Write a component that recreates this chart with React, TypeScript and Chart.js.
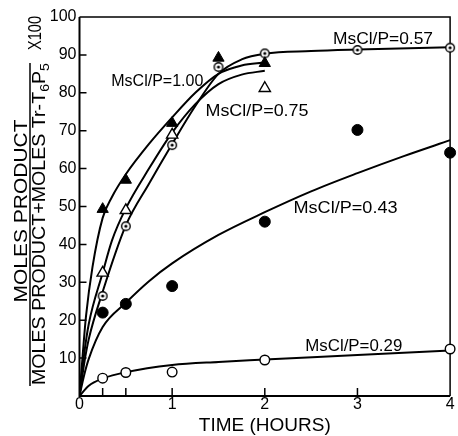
import React, { useEffect, useRef } from 'react';
import { Chart, registerables } from 'chart.js';

Chart.register(...registerables);

// ---- axis ticks ----
const xTickValues = [0, 0.25, 0.5, 1, 2, 3, 4];
const xTickLabels = ['0', '', '', '1', '2', '3', '4'];
const yTickValues = [0, 10, 20, 30, 40, 50, 60, 70, 80, 90, 100];
const yTickLabels = ['', '10', '20', '30', '40', '50', '60', '70', '80', '90', '100'];

// ---- measured points (time in hours, percent) ----
const t100 = [0.25, 0.5, 1, 1.5, 2];
const v100 = [49.3, 57, 72, 89.2, 87.8];
const t75 = [0.25, 0.5, 1, 2];
const v75 = [32.5, 49, 68.9, 81.2];
const t57 = [0.25, 0.5, 1, 1.5, 2, 3, 4];
const v57 = [26.4, 44.8, 66.2, 86.8, 90.4, 91.3, 91.9];
const t43 = [0.25, 0.5, 1, 2, 3, 4];
const v43 = [22, 24.3, 29, 46, 70.2, 64.2];
const t29 = [0.25, 0.5, 1, 2, 4];
const v29 = [4.7, 6.2, 6.3, 9.5, 12.4];

// ---- hand-drawn curves ----
const fitT100 = [0, 0.035, 0.07, 0.14, 0.25, 0.35, 0.5, 0.75, 1, 1.25, 1.5, 1.75, 2];
const fitV100 = [0, 11, 21, 34, 47, 52.5, 58.5, 66.5, 73.5, 80, 85, 87.2, 88];
const fitT75 = [0, 0.05, 0.1, 0.25, 0.35, 0.5, 0.75, 1, 1.25, 1.5, 1.75, 2];
const fitV75 = [0, 11, 19, 32.5, 41, 49.5, 60, 69.5, 77, 82.3, 84.8, 85.8];
const fitT57 = [0, 0.05, 0.1, 0.25, 0.5, 0.75, 1, 1.25, 1.5, 1.75, 2, 2.5, 3, 4];
const fitV57 = [0, 8.5, 15, 27.5, 45, 56, 66.5, 76.5, 85, 88.8, 90.3, 91, 91.4, 92];
const fitT43 = [0, 0.05, 0.1, 0.25, 0.5, 0.75, 1, 1.5, 2, 2.5, 3, 3.5, 4];
const fitV43 = [0, 5.5, 9.8, 18.2, 24.6, 30.3, 35, 42.5, 48.5, 54, 58.8, 63.3, 67.5];
const fitT29 = [0, 0.1, 0.25, 0.5, 1, 1.5, 2, 3, 4];
const fitV29 = [0, 2.7, 4.6, 6.3, 8.2, 9.0, 9.6, 10.8, 12.0];

// ---- series labels ----
const seriesLabels = ['MsCl/P=1.00', 'MsCl/P=0.75', 'MsCl/P=0.57', 'MsCl/P=0.43', 'MsCl/P=0.29'];
const labelX = [0.343, 1.36, 2.736, 2.31, 2.437];
const labelY = [83.4, 75.5, 94.4, 49.9, 13.3];
const labelW = [92, 103, 100, 104, 97];

const FONT = '"Liberation Sans", Arial, sans-serif';

const zip = (xs: number[], ys: number[]) => xs.map((x, i) => ({ x, y: ys[i] }));

type Seg = { t: string; size: number; sub?: number };

function drawSegs(
  ctx: CanvasRenderingContext2D,
  ox: number,
  oy: number,
  rot: boolean,
  segs: Seg[],
  target: number,
  align: 'left' | 'center'
) {
  ctx.save();
  ctx.translate(ox, oy);
  if (rot) ctx.rotate(-Math.PI / 2);
  let w = 0;
  const widths = segs.map((s) => {
    ctx.font = `${s.size}px ${FONT}`;
    const m = ctx.measureText(s.t).width;
    w += m;
    return m;
  });
  const k = target / w;
  ctx.scale(k, 1);
  let cx = align === 'center' ? -w / 2 : 0;
  const base = (0.716 * segs[0].size) / 2;
  ctx.textAlign = 'left';
  ctx.textBaseline = 'alphabetic';
  ctx.fillStyle = '#000';
  segs.forEach((s, i) => {
    ctx.font = `${s.size}px ${FONT}`;
    ctx.fillText(s.t, cx, base + (s.sub || 0));
    cx += widths[i];
  });
  ctx.restore();
}

function makeDotCircle() {
  const c = document.createElement('canvas');
  c.width = 12;
  c.height = 12;
  const g = c.getContext('2d')!;
  g.beginPath();
  g.arc(6, 6, 4.3, 0, Math.PI * 2);
  g.fillStyle = '#fff';
  g.fill();
  g.lineWidth = 1.4;
  g.strokeStyle = '#000';
  g.stroke();
  g.beginPath();
  g.arc(6, 6, 1.6, 0, Math.PI * 2);
  g.fillStyle = '#000';
  g.fill();
  return c;
}

const framePlugin = {
  id: 'frame',
  beforeDatasetsDraw(chart: any) {
    const { ctx, chartArea, scales } = chart;
    const { left, right, top, bottom } = chartArea;
    ctx.save();
    ctx.strokeStyle = '#000';
    ctx.lineWidth = 1.5;
    ctx.beginPath();
    ctx.moveTo(left, top);
    ctx.lineTo(right, top);
    ctx.lineTo(right, bottom);
    ctx.stroke();
    ctx.lineWidth = 2;
    ctx.beginPath();
    ctx.moveTo(left, top);
    ctx.lineTo(left, bottom);
    ctx.lineTo(right, bottom);
    ctx.stroke();
    ctx.lineWidth = 1.5;
    ctx.beginPath();
    xTickValues.forEach((v) => {
      if (v <= 0 || v >= 4) return;
      const px = scales.x.getPixelForValue(v);
      ctx.moveTo(px, bottom);
      ctx.lineTo(px, bottom - 8);
    });
    yTickValues.forEach((v) => {
      if (v <= 0 || v >= 100) return;
      const py = scales.y.getPixelForValue(v);
      ctx.moveTo(left, py);
      ctx.lineTo(left + 7, py);
    });
    ctx.stroke();
    ctx.restore();
  },
};

const textPlugin = {
  id: 'texts',
  afterDraw(chart: any) {
    const { ctx, scales } = chart;
    seriesLabels.forEach((s, i) => {
      drawSegs(
        ctx,
        scales.x.getPixelForValue(labelX[i]),
        scales.y.getPixelForValue(labelY[i]),
        false,
        [{ t: s, size: 16 }],
        labelW[i],
        'left'
      );
    });
    // y-axis title as a fraction
    drawSegs(ctx, 20, 211, true, [{ t: 'MOLES PRODUCT', size: 19 }], 183, 'center');
    drawSegs(
      ctx,
      39,
      224,
      true,
      [
        { t: 'MOLES PRODUCT+MOLES Tr-T', size: 18 },
        { t: '6', size: 13, sub: 4 },
        { t: 'P', size: 18 },
        { t: '5', size: 13, sub: 4 },
      ],
      322,
      'center'
    );
    drawSegs(ctx, 35, 33, true, [{ t: 'X100', size: 18 }], 34, 'center');
    ctx.save();
    ctx.strokeStyle = '#000';
    ctx.lineWidth = 1.5;
    ctx.beginPath();
    ctx.moveTo(30, 63);
    ctx.lineTo(30, 386);
    ctx.stroke();
    ctx.restore();
  },
};

export default function App() {
  const ref = useRef<HTMLCanvasElement>(null);
  useEffect(() => {
    const canvas = ref.current!;
    const dotCircle = makeDotCircle();
    const marker = (data: any, style: any, r: number, fill: string, bw: number) => ({
      data,
      showLine: false,
      pointStyle: style,
      pointRadius: r,
      pointHoverRadius: r,
      pointBackgroundColor: fill,
      pointBorderColor: '#000',
      pointBorderWidth: bw,
      borderColor: '#000',
      backgroundColor: fill,
      clip: false as any,
      order: 0,
    });
    const curve = (data: any) => ({
      data,
      borderColor: '#000',
      borderWidth: 2,
      pointRadius: 0,
      pointHoverRadius: 0,
      cubicInterpolationMode: 'monotone' as const,
      fill: false,
      order: 1,
    });
    const chart = new Chart(canvas, {
      type: 'line',
      data: {
        datasets: [
          marker(zip(t100, v100), 'triangle', 6.5, '#000', 1),
          marker(zip(t75, v75), 'triangle', 6.5, '#fff', 1.4),
          marker(zip(t57, v57), dotCircle, 4.5, '#fff', 1.4),
          marker(zip(t43, v43), 'circle', 5.5, '#000', 1),
          marker(zip(t29, v29), 'circle', 4.8, '#fff', 1.4),
          curve(zip(fitT100, fitV100)),
          curve(zip(fitT75, fitV75)),
          curve(zip(fitT57, fitV57)),
          curve(zip(fitT43, fitV43)),
          curve(zip(fitT29, fitV29)),
        ] as any,
      },
      options: {
        responsive: false,
        animation: false,
        devicePixelRatio: 1,
        events: [],
        layout: { padding: { left: 0, right: 3.5, top: 17, bottom: 0 } },
        plugins: { legend: { display: false }, tooltip: { enabled: false } },
        scales: {
          x: {
            type: 'linear',
            min: 0,
            max: 4,
            grid: { display: false, drawTicks: false },
            border: { display: false },
            afterBuildTicks: (s: any) => {
              s.ticks = xTickValues.map((v) => ({ value: v }));
            },
            afterFit: (s: any) => {
              s.height = 40;
            },
            ticks: {
              autoSkip: false,
              maxRotation: 0,
              padding: 1,
              color: '#000',
              font: { family: FONT, size: 16, lineHeight: 1 },
              callback: (_v: any, i: number) => xTickLabels[i],
            },
            title: {
              display: true,
              text: 'TIME (HOURS)',
              color: '#000',
              font: { family: FONT, size: 19, lineHeight: 1 },
              padding: { top: 0, bottom: 1 },
            },
          },
          y: {
            type: 'linear',
            min: 0,
            max: 100,
            grid: { display: false, drawTicks: false },
            border: { display: false },
            afterBuildTicks: (s: any) => {
              s.ticks = yTickValues.map((v) => ({ value: v }));
            },
            afterFit: (s: any) => {
              s.width = 79.5;
            },
            ticks: {
              autoSkip: false,
              padding: 3,
              color: '#000',
              font: { family: FONT, size: 16, lineHeight: 1 },
              callback: (_v: any, i: number) => yTickLabels[i],
            },
          },
        },
      } as any,
      plugins: [framePlugin, textPlugin],
    });
    return () => chart.destroy();
  }, []);
  return (
    <div style={{ position: 'absolute', left: 0, top: 0, width: 458, height: 436, background: '#fff' }}>
      <canvas ref={ref} width={458} height={436} style={{ display: 'block', width: 458, height: 436 }} />
    </div>
  );
}
